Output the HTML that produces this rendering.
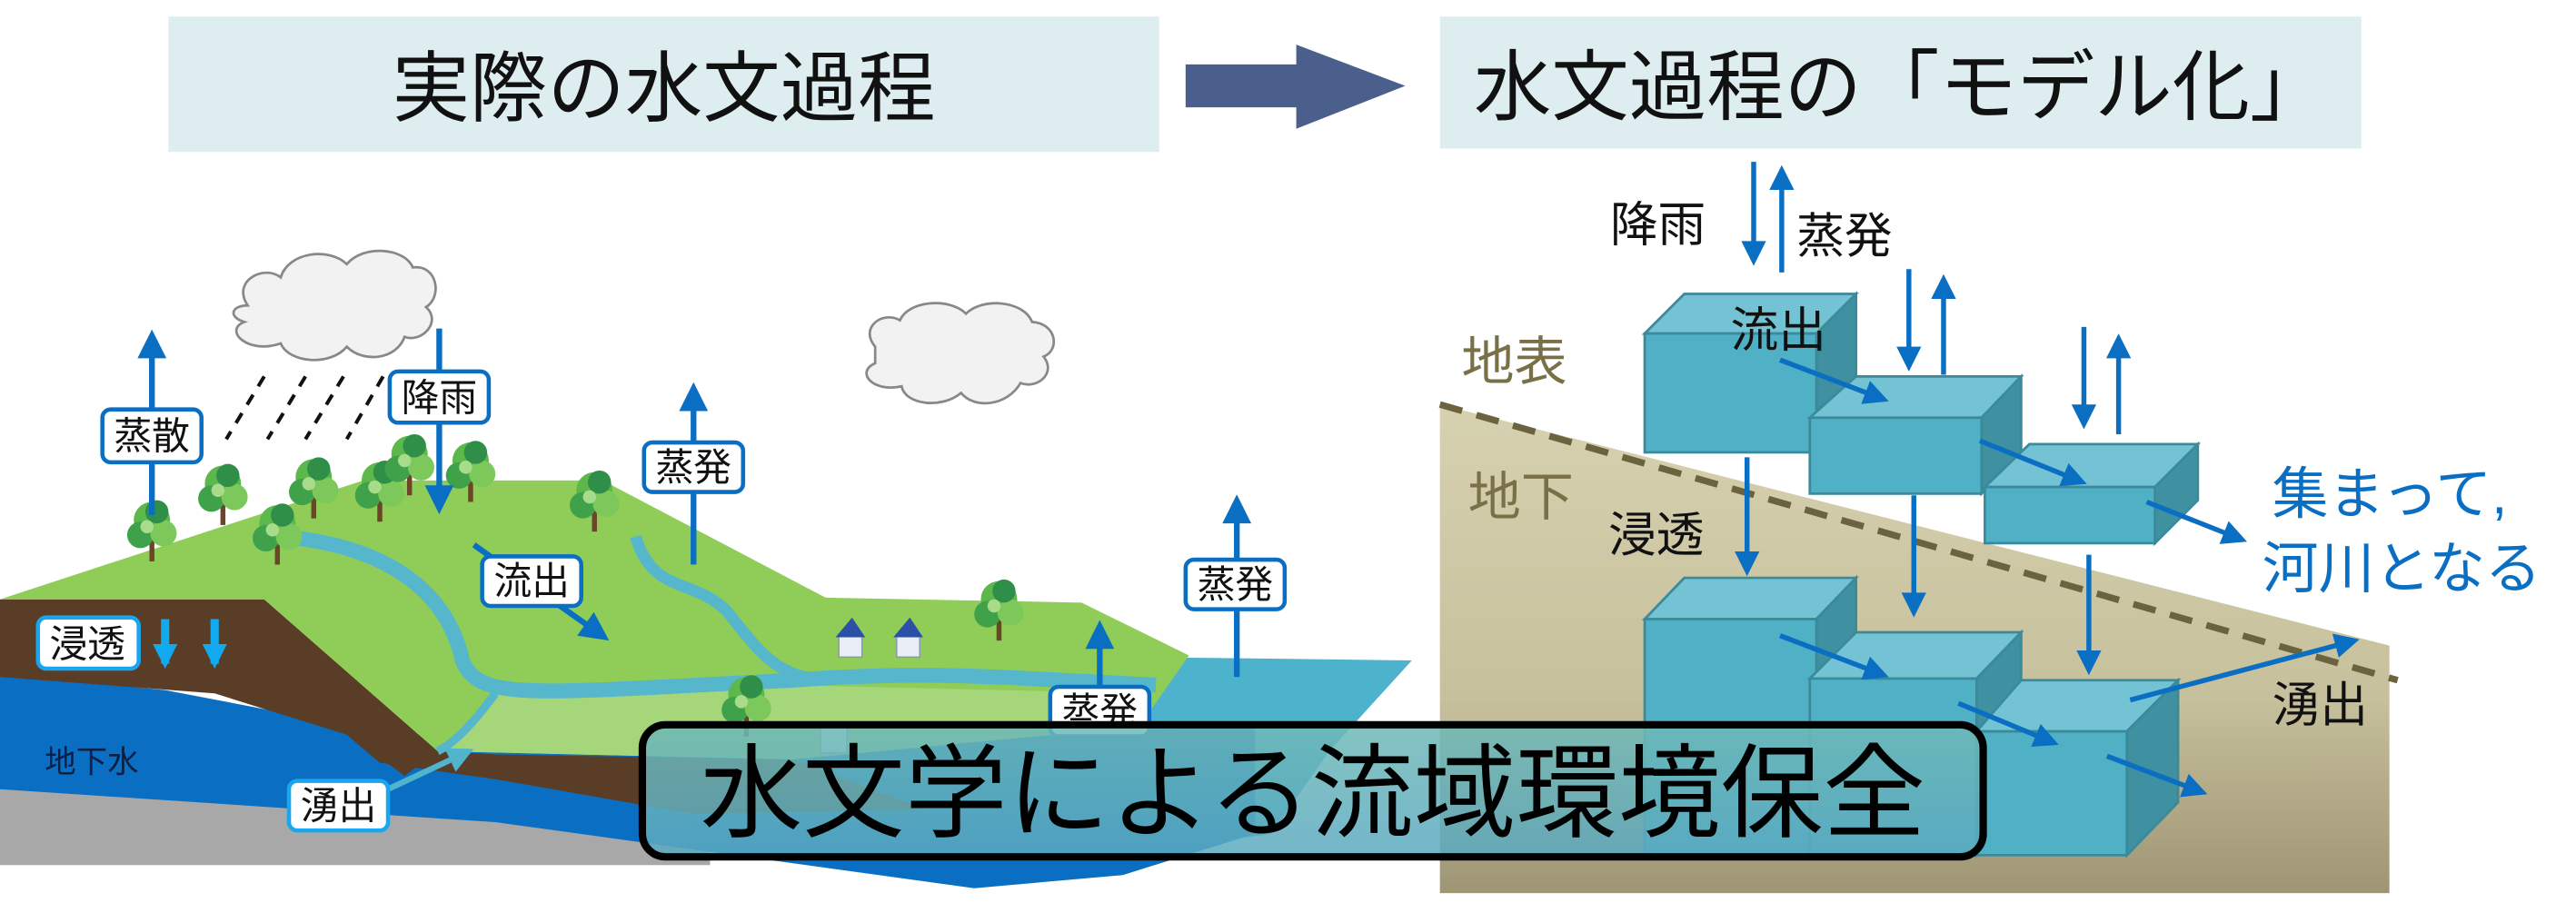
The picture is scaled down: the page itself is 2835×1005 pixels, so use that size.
<!DOCTYPE html>
<html><head><meta charset="utf-8"><style>
html,body{margin:0;padding:0;background:#fff;}
svg{display:block;}
text{font-family:"Liberation Sans","Noto Sans CJK JP",sans-serif;}
</style></head><body>
<svg width="2835" height="1005" viewBox="0 0 1560 553" xmlns="http://www.w3.org/2000/svg">
<defs>
<marker id="ab" viewBox="0 0 10 10" refX="8" refY="5" markerWidth="5.5" markerHeight="5" orient="auto"><path d="M0,0L10,5L0,10z" fill="#0a6fc2"/></marker>
<marker id="ac" viewBox="0 0 10 10" refX="8" refY="5" markerWidth="4.5" markerHeight="4.5" orient="auto"><path d="M0,0L10,5L0,10z" fill="#4fb4cc"/></marker>
<marker id="al" viewBox="0 0 10 10" refX="8" refY="5" markerWidth="3" markerHeight="3" orient="auto"><path d="M0,0L10,5L0,10z" fill="#12aaee"/></marker>
<linearGradient id="tan" x1="0" y1="0" x2="0" y2="1"><stop offset="0" stop-color="#d6d1b0"/><stop offset="0.6" stop-color="#c7c09c"/><stop offset="1" stop-color="#9e9574"/></linearGradient>
<linearGradient id="bx" x1="0" y1="0" x2="0" y2="1"><stop offset="0" stop-color="#6fb9b7" stop-opacity="0.85"/><stop offset="1" stop-color="#5aa9c0" stop-opacity="0.85"/></linearGradient>
<g id="tree"><rect x="-1.5" y="0" width="3" height="18" fill="#6b4526"/><circle cx="0" cy="-7" r="11" fill="#5cb84a"/><circle cx="-7" cy="2" r="8" fill="#3fa14a"/><circle cx="7" cy="1" r="8" fill="#7cc85a"/><circle cx="3" cy="-12" r="7" fill="#2f8f48"/><circle cx="-3" cy="-3" r="4" fill="#a8dc8a"/></g>
</defs>

<rect x="102" y="10" width="600" height="82" fill="#deedf0"/>
<text x="402" y="70" font-size="47" text-anchor="middle" fill="#111">実際の水文過程</text>
<rect x="872" y="10" width="558" height="80" fill="#deedf0"/>
<text x="1151" y="69" font-size="47" text-anchor="middle" fill="#111">水文過程の「モデル化」</text>
<rect x="718" y="39" width="72" height="26" fill="#4b5f8c"/>
<polygon points="785,27 851,52 785,78" fill="#4b5f8c"/>

<rect x="0" y="468" width="430" height="56" fill="#a8a8a8"/>
<polygon points="690,398 855,400 805,455 770,505 700,515" fill="#4db3cc"/>
<polygon points="0,408 100,418 215,440 300,452 760,440 760,505 680,530 590,538 300,498 0,478" fill="#0a6fc2"/>
<polygon points="0,363 160,363 265,455 300,457 480,460 560,490 420,493 300,472 230,462 210,445 130,420 0,410" fill="#5a3d26"/>
<polygon points="225,455 265,455 245,470" fill="#5a3d26"/>
<polygon points="0,363 220,291 365,291 500,362 655,365 720,397 690,440 480,460 265,455 160,363" fill="#8fcd58"/>
<polygon points="265,455 300,420 480,415 690,420 690,440 480,460" fill="#a6d67a"/>
<path d="M170,325 C230,330 270,355 280,400 C290,425 320,420 480,412 C560,406 600,410 700,415" stroke="#55b6cc" stroke-width="9" fill="none"/>
<path d="M385,325 C395,360 420,350 440,370 C460,395 470,410 500,412" stroke="#55b6cc" stroke-width="7" fill="none"/>
<path d="M300,420 C285,440 275,450 265,455" stroke="#55b6cc" stroke-width="5" fill="none"/>
<use href="#tree" x="92" y="322"/><use href="#tree" x="135" y="300"/><use href="#tree" x="168" y="324"/>
<use href="#tree" x="190" y="296"/><use href="#tree" x="230" y="298"/><use href="#tree" x="248" y="282"/>
<use href="#tree" x="285" y="286"/><use href="#tree" x="360" y="304"/><use href="#tree" x="605" y="370"/>
<use href="#tree" x="452" y="428"/>
<g fill="#e8eef4" stroke="#8899aa" stroke-width="0.8"><rect x="508" y="384" width="14" height="14"/><rect x="543" y="384" width="14" height="14"/><rect x="497" y="440" width="16" height="16"/></g>
<g fill="#2c50a8"><polygon points="506,386 516,374 524,386"/><polygon points="541,386 551,374 559,386"/></g>
<g fill="#f2f2f2" stroke="#888" stroke-width="1.5">
<path d="M150,185 C140,170 160,160 170,168 C175,152 200,150 210,160 C220,148 245,150 250,162 C265,160 268,180 258,186 C268,195 255,208 245,204 C240,218 220,220 210,210 C200,222 175,220 170,208 C150,215 135,200 148,195 C138,192 140,185 150,185 Z"/>
<path d="M530,210 C520,198 535,188 545,194 C550,182 575,180 585,190 C595,180 620,182 625,195 C640,196 642,212 632,216 C640,226 628,236 618,232 C610,246 590,248 582,238 C570,248 548,245 546,234 C528,238 518,225 530,220 Z"/>
</g>
<g stroke="#111" stroke-width="2.2" stroke-dasharray="7,6"><line x1="160" y1="228" x2="137" y2="266"/><line x1="185" y1="228" x2="162" y2="266"/><line x1="208" y1="228" x2="185" y2="266"/><line x1="232" y1="228" x2="210" y2="266"/></g>
<g stroke="#0a6fc2" stroke-width="3.5" fill="none">
<line x1="92" y1="312" x2="92" y2="203" marker-end="url(#ab)"/>
<line x1="266" y1="199" x2="266" y2="308" marker-end="url(#ab)"/>
<line x1="420" y1="342" x2="420" y2="235" marker-end="url(#ab)"/>
<line x1="287" y1="330" x2="366" y2="386" marker-end="url(#ab)"/>
<line x1="749" y1="410" x2="749" y2="303" marker-end="url(#ab)"/>
<line x1="666" y1="470" x2="666" y2="379" marker-end="url(#ab)"/>
</g>
<g stroke="#12aaee" stroke-width="5" fill="none">
<line x1="100" y1="375" x2="100" y2="402" marker-end="url(#al)"/><line x1="130" y1="375" x2="130" y2="402" marker-end="url(#al)"/>
</g>
<line x1="235" y1="478" x2="284" y2="455" stroke="#4fb4cc" stroke-width="3.5" marker-end="url(#ac)"/>
<g fill="#fff" stroke="#0a6fc2" stroke-width="2.5">
<rect x="62" y="248" width="60" height="32" rx="5"/><rect x="236" y="225" width="60" height="31" rx="5"/>
<rect x="390" y="268" width="60" height="30" rx="5"/><rect x="292" y="337" width="60" height="30" rx="5"/>
<rect x="718" y="339" width="60" height="30" rx="5"/><rect x="636" y="416" width="60" height="30" rx="5"/>
</g>
<g fill="#fff" stroke="#1aa6ee" stroke-width="2.5"><rect x="23" y="374" width="61" height="31" rx="5"/><rect x="175" y="473" width="60" height="30" rx="5"/></g>
<g font-size="23" fill="#111" text-anchor="middle">
<text x="92" y="272">蒸散</text><text x="266" y="249">降雨</text><text x="420" y="291">蒸発</text>
<text x="322" y="360">流出</text><text x="748" y="362">蒸発</text><text x="666" y="439">蒸発</text>
<text x="53" y="398">浸透</text><text x="205" y="496">湧出</text>
</g>
<text x="27" y="468" font-size="19" fill="#0d1f45">地下水</text>

<polygon points="872,245 1447,391 1447,541 872,541" fill="url(#tan)"/>
<line x1="872" y1="245" x2="1452" y2="412" stroke="#6b6340" stroke-width="4" stroke-dasharray="14,9"/>
<text x="885" y="230" font-size="32" fill="#7a7048">地表</text>
<text x="889" y="312" font-size="32" fill="#7a7048">地下</text>
<g stroke="#3a8a9a" stroke-width="1.5">
<polygon points="996,375 1020,350 1124,350 1100,375" fill="#74c3d4"/><polygon points="1100,375 1124,350 1124,495 1100,518" fill="#3f90a0"/><rect x="996" y="375" width="104" height="143" fill="#4fb0c6"/>
<polygon points="1096,411 1124,383 1224,383 1197,411" fill="#74c3d4"/><polygon points="1197,411 1224,383 1224,495 1197,518" fill="#3f90a0"/><rect x="1096" y="411" width="101" height="107" fill="#4fb0c6"/>
<polygon points="1197,443 1224,412 1319,412 1288,443" fill="#74c3d4"/><polygon points="1288,443 1319,412 1319,486 1288,518" fill="#3f90a0"/><rect x="1197" y="443" width="91" height="75" fill="#4fb0c6"/>
<polygon points="996,202 1020,178 1124,178 1100,202" fill="#74c3d4"/><polygon points="1100,202 1124,178 1124,250 1100,274" fill="#3f90a0"/><rect x="996" y="202" width="104" height="72" fill="#4fb0c6"/>
<polygon points="1096,253 1124,228 1224,228 1200,253" fill="#74c3d4"/><polygon points="1200,253 1224,228 1224,275 1200,299" fill="#3f90a0"/><rect x="1096" y="253" width="104" height="46" fill="#4fb0c6"/>
<polygon points="1202,295 1229,269 1331,269 1305,295" fill="#74c3d4"/><polygon points="1305,295 1331,269 1331,303 1305,329" fill="#3f90a0"/><rect x="1202" y="295" width="103" height="34" fill="#4fb0c6"/>
</g>
<g stroke="#0a6fc2" stroke-width="3" fill="none">
<line x1="1062" y1="98" x2="1062" y2="158" marker-end="url(#ab)"/><line x1="1079" y1="165" x2="1079" y2="103" marker-end="url(#ab)"/>
<line x1="1156" y1="163" x2="1156" y2="222" marker-end="url(#ab)"/><line x1="1177" y1="227" x2="1177" y2="169" marker-end="url(#ab)"/>
<line x1="1262" y1="198" x2="1262" y2="257" marker-end="url(#ab)"/><line x1="1283" y1="263" x2="1283" y2="205" marker-end="url(#ab)"/>
<line x1="1078" y1="218" x2="1141" y2="242" marker-end="url(#ab)"/><line x1="1199" y1="267" x2="1261" y2="292" marker-end="url(#ab)"/>
<line x1="1300" y1="304" x2="1358" y2="327" marker-end="url(#ab)"/>
<line x1="1058" y1="277" x2="1058" y2="346" marker-end="url(#ab)"/><line x1="1159" y1="300" x2="1159" y2="371" marker-end="url(#ab)"/><line x1="1265" y1="336" x2="1265" y2="406" marker-end="url(#ab)"/>
<line x1="1078" y1="385" x2="1141" y2="409" marker-end="url(#ab)"/><line x1="1186" y1="426" x2="1244" y2="450" marker-end="url(#ab)"/><line x1="1276" y1="458" x2="1334" y2="480" marker-end="url(#ab)"/>
<line x1="1290" y1="424" x2="1426" y2="388" marker-end="url(#ab)"/>
</g>
<g font-size="29" fill="#111">
<text x="975" y="146">降雨</text><text x="1088" y="153">蒸発</text><text x="1048" y="210">流出</text>
<text x="974" y="334">浸透</text><text x="1376" y="437">湧出</text>
</g>
<g font-size="34" fill="#0a6fc2"><text x="1376" y="311">集まって,</text><text x="1370" y="356">河川となる</text></g>

<rect x="389" y="439" width="812" height="80" rx="14" fill="url(#bx)" stroke="#000" stroke-width="4.5"/>
<text x="795" y="502" font-size="62" text-anchor="middle" fill="#000">水文学による流域環境保全</text>
</svg>
</body></html>
